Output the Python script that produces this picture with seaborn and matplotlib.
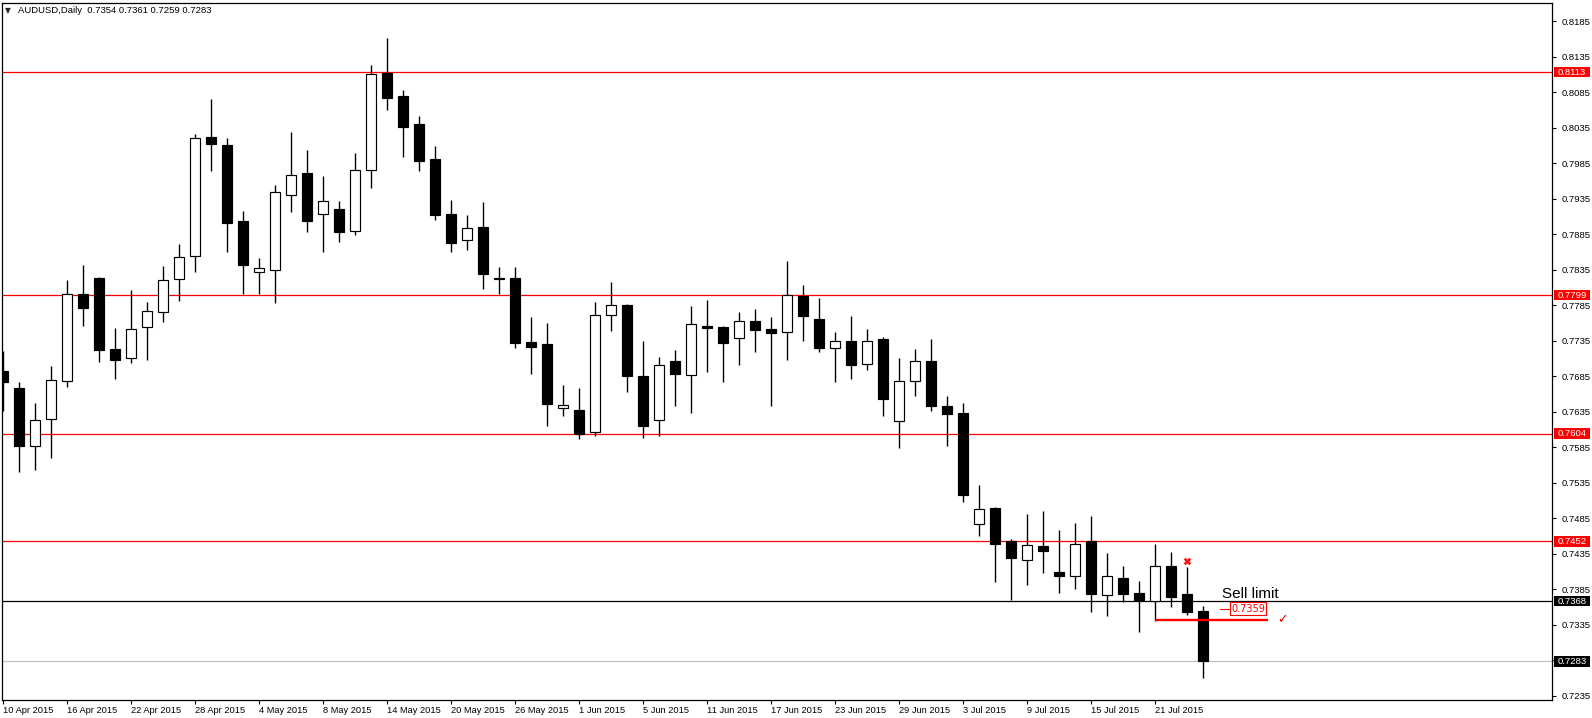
import numpy as np
import pandas as pd
import matplotlib
matplotlib.use("Agg")
import matplotlib.pyplot as plt
import matplotlib.transforms as mtransforms
from matplotlib.patches import Rectangle
import seaborn as sns

# ---------------- data (AUDUSD daily, 10 Apr 2015 - 24 Jul 2015) ----------------
opens = [0.7692, 0.7668, 0.7586, 0.7624, 0.7678, 0.7801, 0.7823, 0.7723, 0.7710, 0.7754,
         0.7775, 0.7821, 0.7854, 0.8021, 0.8010, 0.7903, 0.7831, 0.7834, 0.7940, 0.7971,
         0.7913, 0.7920, 0.7889, 0.7975, 0.8112, 0.8079, 0.8040, 0.7991, 0.7913, 0.7876,
         0.7895, 0.7823, 0.7823, 0.7733, 0.7730, 0.7640, 0.7637, 0.7606, 0.7771, 0.7785,
         0.7685, 0.7623, 0.7706, 0.7687, 0.7756, 0.7754, 0.7739, 0.7763, 0.7751, 0.7747,
         0.7797, 0.7765, 0.7725, 0.7735, 0.7702, 0.7737, 0.7621, 0.7678, 0.7706, 0.7643,
         0.7633, 0.7476, 0.7499, 0.7452, 0.7426, 0.7445, 0.7409, 0.7404, 0.7452, 0.7376,
         0.7401, 0.7379, 0.7368, 0.7417, 0.7378, 0.7354]
highs = [0.7720, 0.7676, 0.7647, 0.7699, 0.7820, 0.7841, 0.7824, 0.7753, 0.7806, 0.7789,
         0.7840, 0.7871, 0.8026, 0.8075, 0.8020, 0.7918, 0.7851, 0.7954, 0.8029, 0.8003,
         0.7967, 0.7932, 0.7999, 0.8123, 0.8161, 0.8088, 0.8051, 0.8009, 0.7933, 0.7912,
         0.7930, 0.7839, 0.7839, 0.7768, 0.7760, 0.7672, 0.7668, 0.7789, 0.7817, 0.7786,
         0.7734, 0.7712, 0.7722, 0.7784, 0.7792, 0.7756, 0.7775, 0.7779, 0.7768, 0.7847,
         0.7813, 0.7795, 0.7747, 0.7770, 0.7751, 0.7740, 0.7710, 0.7723, 0.7737, 0.7657,
         0.7647, 0.7531, 0.7500, 0.7456, 0.7491, 0.7495, 0.7468, 0.7478, 0.7488, 0.7436,
         0.7417, 0.7396, 0.7448, 0.7437, 0.7416, 0.7361]
lows = [0.7636, 0.7550, 0.7553, 0.7570, 0.7670, 0.7756, 0.7705, 0.7681, 0.7704, 0.7708,
        0.7761, 0.7790, 0.7832, 0.7974, 0.7860, 0.7801, 0.7801, 0.7788, 0.7916, 0.7888,
        0.7860, 0.7874, 0.7884, 0.7950, 0.8060, 0.7994, 0.7974, 0.7905, 0.7859, 0.7863,
        0.7808, 0.7801, 0.7725, 0.7688, 0.7615, 0.7628, 0.7596, 0.7601, 0.7749, 0.7662,
        0.7597, 0.7601, 0.7643, 0.7633, 0.7691, 0.7676, 0.7701, 0.7719, 0.7643, 0.7708,
        0.7735, 0.7719, 0.7677, 0.7681, 0.7694, 0.7629, 0.7584, 0.7657, 0.7636, 0.7587,
        0.7507, 0.7460, 0.7395, 0.7370, 0.7390, 0.7407, 0.7380, 0.7385, 0.7352, 0.7347,
        0.7367, 0.7325, 0.7340, 0.7359, 0.7349, 0.7259]
closes = [0.7677, 0.7587, 0.7623, 0.7679, 0.7801, 0.7781, 0.7722, 0.7708, 0.7751, 0.7776,
          0.7820, 0.7852, 0.8020, 0.8012, 0.7901, 0.7842, 0.7837, 0.7944, 0.7968, 0.7904,
          0.7931, 0.7888, 0.7975, 0.8110, 0.8077, 0.8036, 0.7988, 0.7912, 0.7873, 0.7893,
          0.7829, 0.7822, 0.7732, 0.7726, 0.7646, 0.7644, 0.7603, 0.7771, 0.7785, 0.7685,
          0.7615, 0.7701, 0.7688, 0.7758, 0.7753, 0.7732, 0.7763, 0.7750, 0.7746, 0.7799,
          0.7770, 0.7725, 0.7734, 0.7701, 0.7735, 0.7653, 0.7678, 0.7706, 0.7643, 0.7631,
          0.7518, 0.7497, 0.7449, 0.7428, 0.7447, 0.7438, 0.7404, 0.7449, 0.7378, 0.7403,
          0.7378, 0.7369, 0.7418, 0.7374, 0.7352, 0.7283]

date_labels = ["10 Apr 2015", "16 Apr 2015", "22 Apr 2015", "28 Apr 2015", "4 May 2015",
               "8 May 2015", "14 May 2015", "20 May 2015", "26 May 2015", "1 Jun 2015",
               "5 Jun 2015", "11 Jun 2015", "17 Jun 2015", "23 Jun 2015", "29 Jun 2015",
               "3 Jul 2015", "9 Jul 2015", "15 Jul 2015", "21 Jul 2015"]
date_label_bars = list(range(0, 73, 4))

price_ticks = [0.7235, 0.7285, 0.7335, 0.7385, 0.7435, 0.7485, 0.7535, 0.7585, 0.7635,
               0.7685, 0.7735, 0.7785, 0.7835, 0.7885, 0.7935, 0.7985, 0.8035, 0.8085,
               0.8135, 0.8185]
hidden_ticks = [0.7285]   # covered by the current-price box in the reference

red_levels = [0.8113, 0.7799, 0.7604, 0.7452]
black_level = 0.7368
bid_level = 0.7283

# trade annotations
sell_limit_price = 0.7359
trend_line_price = 0.7341
trend_line_bars = (72, 79.06)
close_marker_bar = [74]
close_marker_price = [0.7424]

# ---------------- figure ----------------
sns.set_theme(style="white")
plt.rcParams['font.family'] = ['Liberation Sans', 'DejaVu Sans']

W, H = 1592, 718
fig = plt.figure(figsize=(W / 100, H / 100), dpi=100)
fig.patch.set_facecolor("white")
ax = fig.add_axes([2 / W, 1 - 700 / H, 1550 / W, 697 / H])
ax.set_facecolor("white")

df = pd.DataFrame({"o": opens, "h": highs, "l": lows, "c": closes})
df["x"] = np.arange(len(df))
df["bottom"] = df[["o", "c"]].min(axis=1)
df["height"] = (df["c"] - df["o"]).abs()
df["fill"] = np.where(df["c"] >= df["o"], "white", "black")

ax.set_xlim(-1 / 16, (1552 - 3) / 16)
ax.set_ylim(0.8185 - 679 / 7100, 0.8185 + 18 / 7100)

# horizontal levels
for lv in red_levels:
    ax.axhline(lv, color="#ff0000", lw=0.9, zorder=1)
ax.axhline(black_level, color="black", lw=0.9, zorder=1)
ax.axhline(bid_level, color="#c0c0c0", lw=0.9, zorder=1)

# candles
ax.vlines(df["x"], df["l"], df["h"], color="black", lw=1.0, zorder=2)
ax.bar(df["x"], df["height"], bottom=df["bottom"], width=0.625,
       color=df["fill"], edgecolor="black", linewidth=0.85, zorder=3)

# trade drawings
ax.hlines(trend_line_price, trend_line_bars[0], trend_line_bars[1], color="#ff0000", lw=1.7, zorder=4)
sns.scatterplot(x=close_marker_bar, y=close_marker_price, marker="X", color="#ff1010",
                s=30, linewidth=0, ax=ax, zorder=5, legend=False)
ax.text(76.2, 0.73723, "Sell limit", fontsize=11, color="black", va="baseline", ha="left", zorder=6)
ax.plot([76.06, 76.69], [sell_limit_price - 0.00016] * 2, color="#ff0000", lw=0.8, zorder=6)
ax.text(76.75, sell_limit_price - 0.00016, f"{sell_limit_price:.4f}", fontsize=7,
        family=["DejaVu Sans"], color="#ff0000", va="center", ha="left", zorder=6,
        bbox=dict(boxstyle="square,pad=0.12", fc="white", ec="#ff0000", lw=0.8))
ax.text(79.94, trend_line_price + 0.00005, "\u2713", fontsize=9, family=["DejaVu Sans"],
        color="#ff0000", va="center", ha="center", zorder=6)

# axes styling
for s in ax.spines.values():
    s.set_visible(True)
    s.set_color("black")
    s.set_linewidth(0.9)
ax.grid(False)

ax.yaxis.tick_right()
ax.set_yticks(price_ticks)
ax.set_yticklabels(["" if t in hidden_ticks else f"{t:.4f}" for t in price_ticks])
ax.tick_params(axis="y", which="both", right=True, left=False, direction="out",
               length=3, width=0.8, pad=4, labelsize=6.8, colors="black")

ax.set_xticks(date_label_bars)
ax.set_xticklabels(date_labels, ha="left")
ax.tick_params(axis="x", which="both", bottom=True, direction="out",
               length=3, width=0.8, pad=1.5, labelsize=6.7, colors="black")
ax.set_xlabel("")
ax.set_ylabel("")

# price label boxes on the right scale
trans = mtransforms.blended_transform_factory(ax.transAxes, ax.transData)
box_levels = red_levels + [black_level, bid_level]
box_colors = ["#ff0000"] * len(red_levels) + ["black", "black"]
for lv, col in zip(box_levels, box_colors):
    ax.add_patch(Rectangle((1 + 2 / 1550, lv - 5.2 / 7100), 36 / 1550, 10.4 / 7100,
                           transform=trans, facecolor=col, edgecolor="none",
                           clip_on=False, zorder=10))
    ax.text(1 + 6 / 1550, lv, f"{lv:.4f}", transform=trans, color="white", fontsize=6.8,
            va="center", ha="left", clip_on=False, zorder=11)

# header
fig.text(5 / W, 1 - 10.5 / H, "\u25bc", fontsize=5.5, family=["DejaVu Sans"], va="center", ha="left")
last = df.iloc[-1]
fig.text(18 / W, 1 - 10.5 / H,
         f"AUDUSD,Daily  {last.o:.4f} {last.h:.4f} {last.l:.4f} {last.c:.4f}",
         fontsize=6.8, va="center", ha="left", color="black")

fig.savefig("out.png", dpi=100, facecolor="white")
